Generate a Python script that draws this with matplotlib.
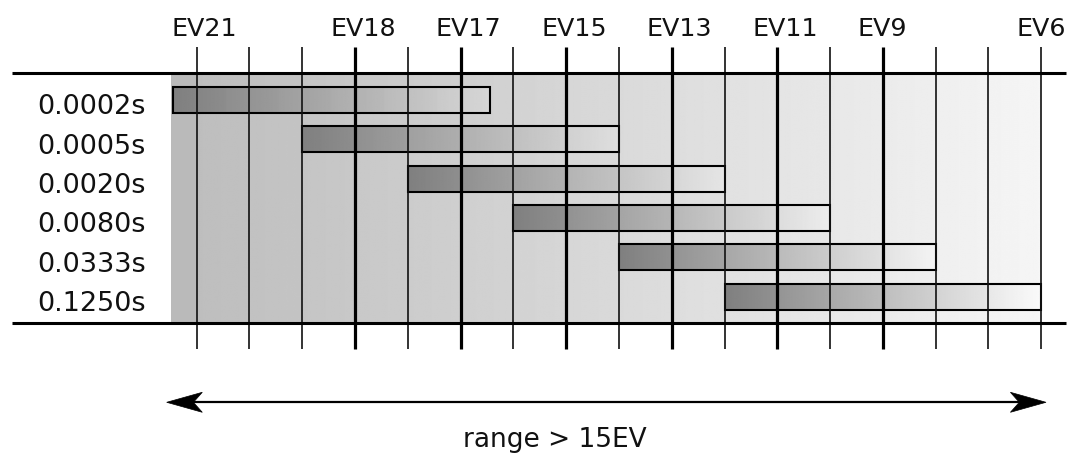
import numpy as np
import matplotlib
matplotlib.use("Agg")
import matplotlib.pyplot as plt
from matplotlib.patches import Rectangle, Polygon

# ---- data ----
ev_labels = ["EV21", "EV18", "EV17", "EV15", "EV13", "EV11", "EV9", "EV6"]
ev_label_pos = [0, 3, 5, 7, 9, 11, 13, 16]
tick_pos = list(range(0, 17))
thick_ticks = [3, 5, 7, 9, 11, 13]
row_labels = ["0.0002s", "0.0005s", "0.0020s", "0.0080s", "0.0333s", "0.1250s"]
bar_start = [-0.45, 2, 4, 6, 8, 10]
bar_end = [5.55, 8, 10, 12, 14, 16]
range_text = "range > 15EV"

# ---- layout (pixel geometry -> data units) ----
W, H = 1071, 459
x0_px, dx_px = 196.7, 52.78      # position 0 and one step
y0_px, dy_px = 99.7, 39.4        # first row and row step

fig = plt.figure(figsize=(W / 100, H / 100), dpi=100)
ax = fig.add_axes([0, 0, 1, 1])
ax.set_axis_off()

def px2x(px):
    return (px - x0_px) / dx_px

def px2y(py):
    return (py - y0_px) / dy_px

top_line = px2y(72.7)
bot_line = px2y(322.7)
tick_top = px2y(47.3)
tick_bot = px2y(349.0)
bar_h = 26.0 / dy_px

BG0, BGSTEP, BGIN = 0.745, 0.0137, 0.011

def bg_value(x):
    k = np.clip(np.floor(x), 0, len(tick_pos) - 2)
    frac = np.clip(x - k, 0, 1)
    return np.where(x < 0, 0.73, BG0 + BGSTEP * k + BGIN * frac)

# background bands with gradient
bg_left = px2x(170.7)
ax.imshow([[0.73, 0.73]], cmap="gray", vmin=0, vmax=1, aspect="auto",
          extent=(bg_left, tick_pos[0], bot_line, top_line), zorder=0,
          interpolation="nearest")
nb = len(tick_pos) - 1
for k in range(nb):
    c0 = BG0 + BGSTEP * k
    grad = np.linspace(c0, c0 + BGIN, 60)[None, :]
    ax.imshow(grad, cmap="gray", vmin=0, vmax=1, aspect="auto",
              extent=(tick_pos[k], tick_pos[k + 1], bot_line, top_line),
              zorder=0, interpolation="bilinear")

# bars with segmented gradient fading toward the background tone
for i, (s, e) in enumerate(zip(bar_start, bar_end)):
    nseg = int(round(e - s))
    g = []
    for j in range(nseg):
        t = np.linspace(0, 1, 60)
        g.append((j + 0.85 * t) / (nseg - 0.15))
    g = np.concatenate(g)
    xs = np.linspace(s, e, g.size)
    end_v = float(bg_value(np.array(e - 0.01))) + 0.02
    v = 0.5 + (end_v - 0.5) * g
    ax.imshow(v[None, :], cmap="gray", vmin=0, vmax=1, aspect="auto",
              extent=(s, e, i + bar_h / 2, i - bar_h / 2),
              zorder=1, interpolation="bilinear")
    ax.add_patch(Rectangle((s, i - bar_h / 2), e - s, bar_h, fill=False,
                           edgecolor="black", linewidth=1.5, zorder=2))

# vertical lines
for p in tick_pos:
    if p in thick_ticks:
        ax.plot([p, p], [tick_top, tick_bot], color="black", lw=2.3,
                zorder=3, solid_capstyle="butt")
    else:
        ax.plot([p, p], [tick_top, tick_bot], color="#111111", lw=1.2,
                zorder=3, solid_capstyle="butt")

# horizontal lines
hl_left, hl_right = px2x(12), px2x(1066)
for yy in (top_line, bot_line):
    ax.plot([hl_left, hl_right], [yy, yy], color="black", lw=2.2,
            zorder=4, solid_capstyle="butt")

# top EV labels
lab_off = -25.0 / dx_px
for lab, p in zip(ev_labels, ev_label_pos):
    ax.text(p + lab_off, px2y(36.0), lab, ha="left", va="baseline",
            fontsize=18.3, family="DejaVu Sans", color="#111111")

# row labels
for i, lab in enumerate(row_labels):
    ax.text(px2x(146), i + 14.6 / dy_px, lab, ha="right", va="baseline",
            fontsize=19.5, family="DejaVu Sans", color="#111111")

# double-headed arrow
ay = px2y(402.3)
a_left, a_right = px2x(166.7), px2x(1046.0)
L, notch, hw = 35.6 / dx_px, 26.7 / dx_px, 10.0 / dy_px
ax.plot([a_left + notch, a_right - notch], [ay, ay], color="black", lw=1.6,
        zorder=4)
for tip, sgn in ((a_left, 1), (a_right, -1)):
    head = [(tip, ay), (tip + sgn * L, ay - hw), (tip + sgn * notch, ay),
            (tip + sgn * L, ay + hw)]
    ax.add_patch(Polygon(head, closed=True, facecolor="black",
                         edgecolor="black", lw=0.5, zorder=5))

ax.text(px2x(554.7), px2y(446.7), range_text, ha="center", va="baseline",
        fontsize=19, family="DejaVu Sans", color="#111111")

ax.set_xlim(px2x(0), px2x(W))
ax.set_ylim(px2y(H), px2y(0))

fig.savefig("out.png", dpi=100)
